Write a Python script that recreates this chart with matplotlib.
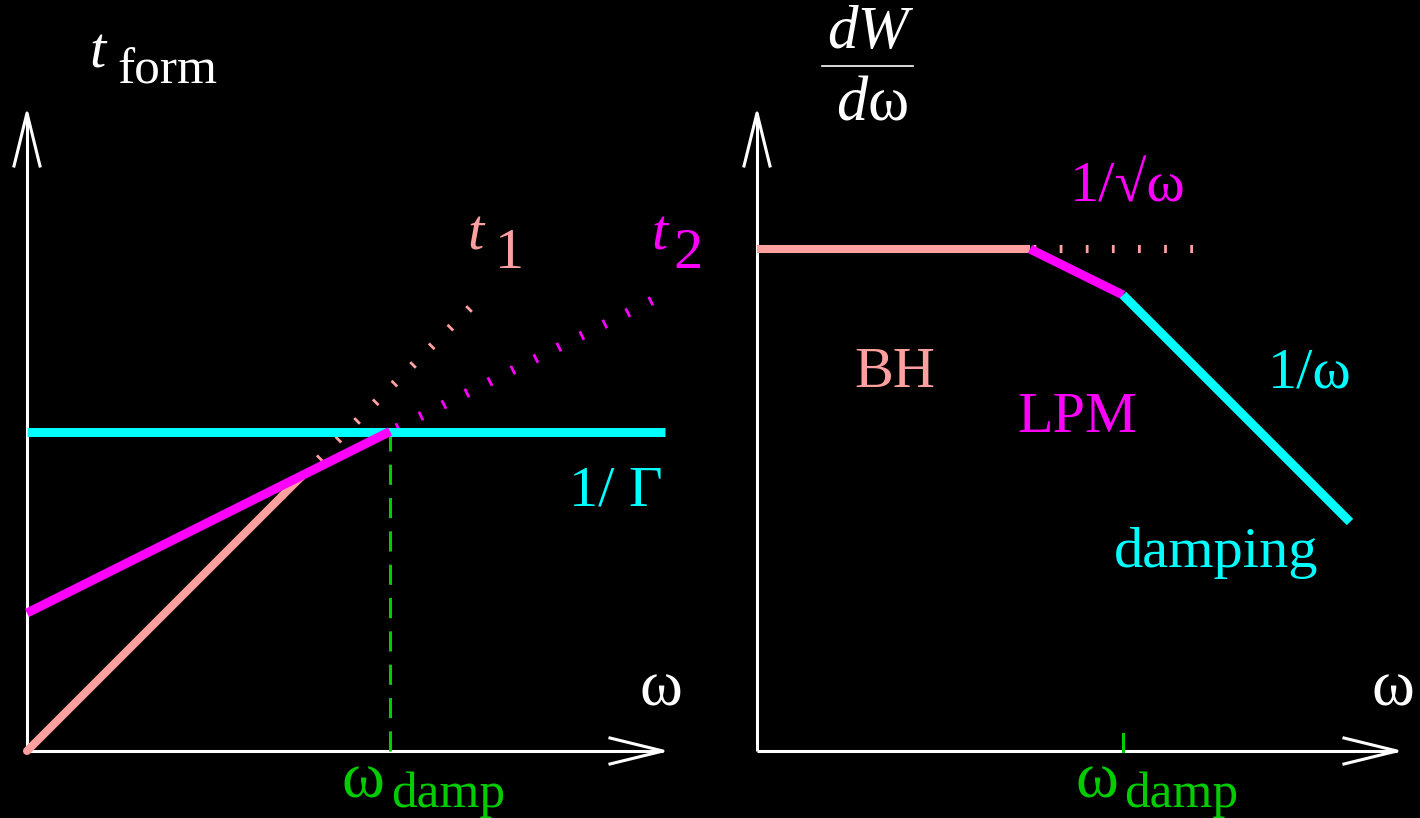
import matplotlib
matplotlib.use("Agg")
import matplotlib.pyplot as plt
import numpy as np

SALMON = "#ffa0a0"
MAGENTA = "#ff00ff"
CYAN = "#00ffff"
GREEN = "#00cc00"
WHITE = "#ffffff"

plt.rcParams["font.family"] = ["Liberation Serif", "DejaVu Serif"]
plt.rcParams["mathtext.fontset"] = "custom"
plt.rcParams["mathtext.rm"] = "Liberation Serif"
plt.rcParams["mathtext.it"] = "Liberation Serif:italic"
plt.rcParams["lines.scale_dashes"] = False

# left panel: formation times vs omega
W_DAMP = 3.63
INV_GAMMA = 3.19
T1_SLOPE = 1.0
T2_OFFSET = 1.38
T2_SLOPE = 0.5
T1_DOT_END = 4.43
T2_DOT_END = 6.25
LEFT_W_MAX = 6.36
LEFT_T_MAX = 6.38

# right panel: spectrum regimes
BH_LEVEL = 5.02
BH_END = 2.73
BH_DOT_END = 4.36
LPM_W = [2.73, 3.66]
LPM_Y = [5.02, 4.56]
DAMP_W = [3.66, 5.93]
DAMP_Y = [4.56, 2.29]
RIGHT_W_DAMP = 3.66
RIGHT_W_MAX = 6.40
RIGHT_T_MAX = 6.38

FS = 42        # labels
FS_SUB = 37    # subscripts
FS_OMEGA = 47  # stand-alone omegas
HEAD_LEN = 0.53
HEAD_HALF = 0.13


def draw_axes(ax, xmax, ymax):
    ax.plot([0, xmax], [0, 0], color=WHITE, lw=2.2, solid_capstyle="butt")
    ax.plot([0, 0], [0, ymax], color=WHITE, lw=2.2, solid_capstyle="butt")
    ax.plot([xmax - HEAD_LEN, xmax, xmax - HEAD_LEN],
            [HEAD_HALF, 0, -HEAD_HALF], color=WHITE, lw=2.2)
    ax.plot([-HEAD_HALF, 0, HEAD_HALF],
            [ymax - HEAD_LEN, ymax, ymax - HEAD_LEN], color=WHITE, lw=2.2)


def label(ax, x, y, s, color, style="normal", size=FS, ha="left"):
    ax.text(x, y, s, color=color, fontsize=size, style=style, ha=ha,
            va="baseline")


fig = plt.figure(figsize=(14.2, 8.18), dpi=100, facecolor="black")

# each panel: 1 data unit = 100 px, origin at the axis corner
ax1 = fig.add_axes([0, 0, 0.5, 1])
ax1.set_xlim(-0.27, 6.83)
ax1.set_ylim(-0.67, 7.51)
ax2 = fig.add_axes([0.5, 0, 0.5, 1])
ax2.set_xlim(-0.47, 6.63)
ax2.set_ylim(-0.67, 7.51)
for ax in (ax1, ax2):
    ax.set_facecolor("black")
    ax.axis("off")

# ---- left panel
draw_axes(ax1, LEFT_W_MAX, LEFT_T_MAX)
w_cross = T2_OFFSET / (T1_SLOPE - T2_SLOPE)
ax1.plot([W_DAMP, W_DAMP], [0, INV_GAMMA], color=GREEN, lw=2.2,
         dashes=(14.5, 9.5))
ax1.plot([0, LEFT_W_MAX + 0.02], [INV_GAMMA, INV_GAMMA], color=CYAN, lw=6.5,
         solid_capstyle="butt", zorder=3)
# dotted extensions are drawn from their far end so a dot sits at the tip
w1 = np.array([T1_DOT_END, w_cross - 0.25])
ax1.plot(w1, T1_SLOPE * w1, color=SALMON, lw=5.8, dashes=(2.0, 17.0),
         dash_capstyle="butt", zorder=2)
w2 = np.array([T2_DOT_END, W_DAMP])
ax1.plot(w2, T2_OFFSET + T2_SLOPE * w2, color=MAGENTA, lw=6.8,
         dashes=(2.0, 16.5), dash_capstyle="butt", zorder=2)
w1s = np.array([0, w_cross])
ax1.plot(w1s, T1_SLOPE * w1s, color=SALMON, lw=5.8, solid_capstyle="round",
         zorder=4)
w2s = np.array([0, W_DAMP])
ax1.plot(w2s, T2_OFFSET + T2_SLOPE * w2s, color=MAGENTA, lw=6.5,
         solid_capstyle="butt", zorder=5)

label(ax1, 0.62, 6.84, "t", WHITE, style="italic")
label(ax1, 0.90, 6.68, "form", WHITE, size=FS_SUB)
label(ax1, 4.40, 5.01, "t", SALMON, style="italic")
label(ax1, 4.68, 4.83, "1", SALMON)
label(ax1, 6.24, 5.01, "t", MAGENTA, style="italic")
label(ax1, 6.46, 4.83, "2", MAGENTA)
label(ax1, 5.42, 2.46, "1/ Γ", CYAN)
label(ax1, 6.12, 0.46, "ω", WHITE, size=FS_OMEGA)
label(ax1, 3.15, -0.46, "ω", GREEN, size=FS_OMEGA)
label(ax1, 3.64, -0.56, "damp", GREEN, size=FS_SUB)

# ---- right panel
draw_axes(ax2, RIGHT_W_MAX, RIGHT_T_MAX)
ax2.plot([RIGHT_W_DAMP, RIGHT_W_DAMP], [0, 0.17], color=GREEN, lw=2.2)
ax2.plot([0, BH_END], [BH_LEVEL, BH_LEVEL], color=SALMON, lw=5.8,
         solid_capstyle="butt")
ax2.plot([BH_DOT_END, BH_END], [BH_LEVEL, BH_LEVEL], color=SALMON, lw=5.8,
         dashes=(2.0, 16.8), dash_capstyle="butt")
ax2.plot(LPM_W, LPM_Y, color=MAGENTA, lw=6.5, solid_capstyle="butt", zorder=3)
ax2.plot(DAMP_W, DAMP_Y, color=CYAN, lw=6.5, solid_capstyle="butt", zorder=3)

label(ax2, 1.11, 7.03, "dW", WHITE, style="italic", ha="center", size=44)
ax2.plot([0.65, 1.56], [6.85, 6.85], color=WHITE, lw=1.2)
label(ax2, 1.15, 6.31, "$d$ω", WHITE, ha="center", size=45)
label(ax2, 3.13, 5.49, "1/√ω", MAGENTA, size=42)
label(ax2, 0.97, 3.64, "BH", SALMON)
label(ax2, 2.60, 3.19, "LPM", MAGENTA)
label(ax2, 5.11, 3.64, "1/ω", CYAN)
label(ax2, 3.57, 1.84, "damping", CYAN)
label(ax2, 6.14, 0.46, "ω", WHITE, size=FS_OMEGA)
label(ax2, 3.19, -0.46, "ω", GREEN, size=FS_OMEGA)
label(ax2, 3.67, -0.56, "damp", GREEN, size=FS_SUB)

fig.savefig("out.png", dpi=100, facecolor="black")
